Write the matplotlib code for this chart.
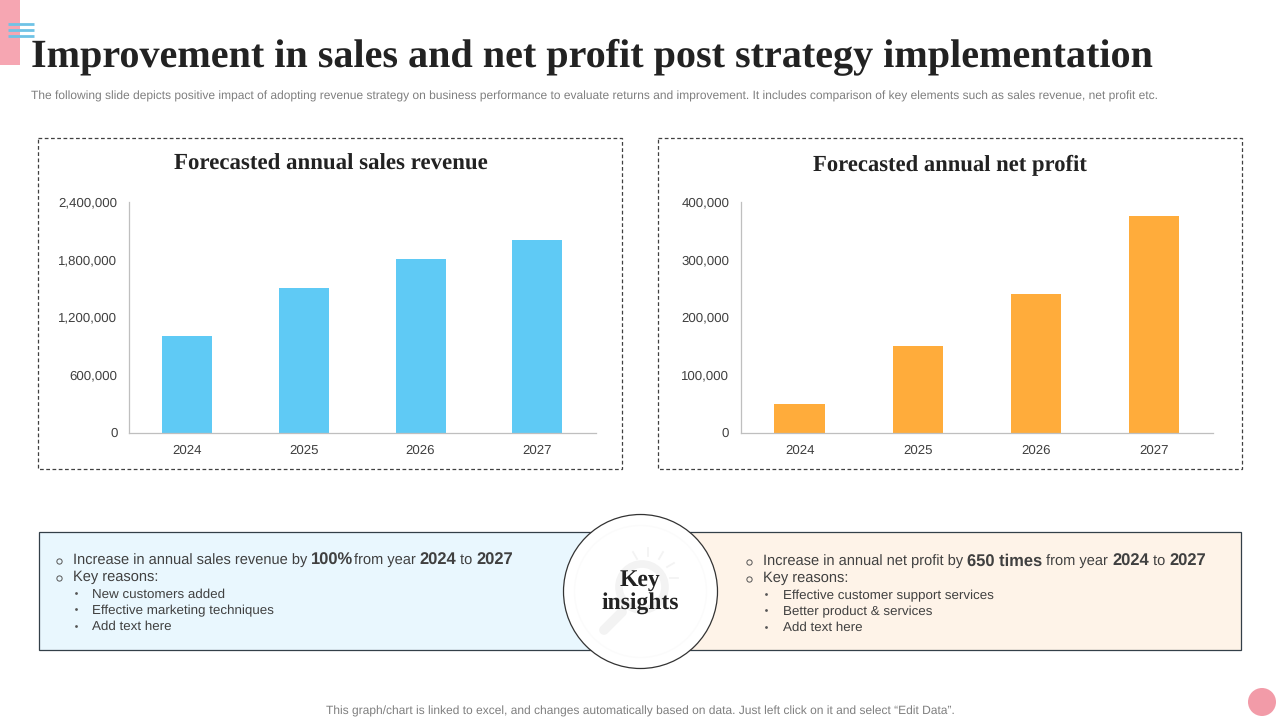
import matplotlib
matplotlib.use('Agg')
import matplotlib.pyplot as plt
from matplotlib.patches import Rectangle, Circle
import numpy as np

plt.rcParams['text.hinting'] = 'no_hinting'

years = ['2024', '2025', '2026', '2027']
sales = [1000000, 1500000, 1800000, 2000000]
profit = [50000, 150000, 240000, 375000]
sales_ticks = [0, 600000, 1200000, 1800000, 2400000]
profit_ticks = [0, 100000, 200000, 300000, 400000]
title = 'Improvement in sales and net profit post strategy implementation'
subtitle = ('The following slide depicts positive impact of adopting revenue strategy on business performance '
            'to evaluate returns and improvement. It includes comparison of key elements such as sales revenue, net profit etc.')
footer = 'This graph/chart is linked to excel, and changes automatically based on data. Just left click on it and select \u201cEdit Data\u201d.'
left_head = [('Increase in annual sales revenue by ', False), ('100%', True), ('from year ', False), ('2024', True), (' to ', False), ('2027', True)]
right_head = [('Increase in annual net profit by ', False), ('650 times', True), (' from year ', False), ('2024', True), (' to ', False), ('2027', True)]
left_items = ['New customers added', 'Effective marketing techniques', 'Add text here']
right_items = ['Effective customer support services', 'Better product & services', 'Add text here']

SANS = 'Liberation Sans'
SERIF = 'Liberation Serif'
GREY = '#404040'

fig = plt.figure(figsize=(12.8, 7.2), dpi=100)
bg = fig.add_axes([0, 0, 1, 1], zorder=0)
bg.set_xlim(0, 1280); bg.set_ylim(720, 0); bg.axis('off')
fg = fig.add_axes([0, 0, 1, 1], zorder=5)
fg.set_xlim(0, 1280); fg.set_ylim(720, 0); fg.axis('off'); fg.patch.set_alpha(0)

# corner decoration
bg.add_patch(Rectangle((0, 0), 20, 65, fc='#F6A6B2', ec='none'))
for y in (24, 30, 36):
    bg.plot([8, 34], [y, y], color='#6FC3E6', lw=2.0, solid_capstyle='butt')
bg.add_patch(Circle((1262, 702), 14, fc='#F29BA8', ec='none'))

bg.text(31, 58, title, fontfamily=SERIF, fontweight='bold', fontsize=28.92, color='#222222', va='center', ha='left')
bg.text(31, 96, subtitle, fontfamily=SANS, fontsize=8.68, color='#7F7F7F', va='center', ha='left')
bg.text(640, 711, footer, fontfamily=SANS, fontsize=8.68, color='#7F7F7F', va='center', ha='center')

# dashed frames
for x0, x1 in ((37.5, 621.5), (657.5, 1241.5)):
    bg.add_patch(Rectangle((x0, 137.5), x1 - x0, 331, fc='none', ec='#404040', lw=0.9, ls=(0, (3, 2))))
bg.text(330.5, 164.3, 'Forecasted annual sales revenue', fontfamily=SERIF, fontweight='bold', fontsize=16.46, color='#222222', va='center', ha='center')
bg.text(949.5, 165, 'Forecasted annual net profit', fontfamily=SERIF, fontweight='bold', fontsize=16.25, color='#222222', va='center', ha='center')

def chart(x0, x1, vals, ticks, color):
    ax = fig.add_axes([x0 / 1280, 1 - 432.5 / 720, (x1 - x0) / 1280, 231 / 720], zorder=2)
    ax.patch.set_alpha(0)
    ax.bar(range(4), vals, width=0.428, color=color)
    ax.set_xlim(-0.5, 3.5)
    ax.set_ylim(0, ticks[-1])
    ax.set_xticks(range(4), years)
    ax.set_yticks(ticks, [f'{t:,}' for t in ticks])
    ax.tick_params(length=0, labelsize=9.5, labelcolor=GREY)
    ax.tick_params(axis='x', pad=8.5)
    ax.tick_params(axis='y', pad=8.3)
    for lab in ax.get_xticklabels() + ax.get_yticklabels():
        lab.set_fontfamily(SANS)
    for s in ('top', 'right'):
        ax.spines[s].set_visible(False)
    for s in ('left', 'bottom'):
        ax.spines[s].set_color('#BFBFBF')
        ax.spines[s].set_linewidth(0.9)

chart(129, 595.5, sales, sales_ticks, '#5FCAF5')
chart(740.7, 1213, profit, profit_ticks, '#FFAC3B')

# insight boxes
bg.add_patch(Rectangle((38.5, 531.5), 600, 118, fc='#E9F7FE', ec='#333F48', lw=0.9))
bg.add_patch(Rectangle((639, 531.5), 602, 118, fc='#FEF3E8', ec='#333F48', lw=0.9))
fg.add_patch(Circle((640.5, 591.5), 77, fc='white', ec='#333333', lw=0.9))

# faint bulb icon
ic = '#F3F3F3'
fg.add_patch(Circle((642, 587), 23, fc='none', ec=ic, lw=5.5))
fg.add_patch(Circle((640.5, 591.5), 66, fc='none', ec='#FBFBFB', lw=1))
fg.plot([604, 622], [630, 612], color=ic, lw=7, solid_capstyle='round')
for ang in (-120, -90, -60, -30, 0):
    a = np.deg2rad(ang)
    fg.plot([648 + 22 * np.cos(a), 648 + 30 * np.cos(a)], [578 + 22 * np.sin(a), 578 + 30 * np.sin(a)], color=ic, lw=1.3)
fg.text(640, 580.5, 'Key', fontfamily=SERIF, fontweight='bold', fontsize=17, color='#222222', ha='center', va='center')
fg.text(640, 603.5, 'insights', fontfamily=SERIF, fontweight='bold', fontsize=17, color='#222222', ha='center', va='center')

renderer = fig.canvas.get_renderer()
def runs(x, y, parts, size, bsize):
    for s, bold in parts:
        sz = bsize if bold else size
        t = fg.text(x, y, s, fontfamily=SANS, fontsize=sz, color=GREY, fontweight='bold' if bold else 'normal', va='center', ha='left')
        adv, _, _ = renderer.get_text_width_height_descent(s.replace(' ', '\u00a0'), t.get_fontproperties(), False)
        x += adv * 100 / fig.dpi

def block(xb, xt, xd, xi, y1, y2, ys, head, items):
    for y in (y1, y2):
        fg.plot([xb], [y + 1.5], marker='o', ms=3.8, mfc='none', mec='#555555', mew=0.7)
    runs(xt, y1 + 1, head, 10.56, 11.9)
    fg.text(xt, y2 + 1, 'Key reasons:', fontfamily=SANS, fontsize=10.56, color=GREY, va='center', ha='left')
    for y, s in zip(ys, items):
        fg.plot([xd], [y], marker='o', ms=2, color='#555555', mew=0)
        fg.text(xi, y + 1.5, s, fontfamily=SANS, fontsize=9.6, color=GREY, va='center', ha='left')

block(58.5, 73, 76, 92, 559, 576, [593, 609, 625.5], left_head, left_items)
block(748.5, 763, 766, 783, 560, 577, [594, 610, 626.5], right_head, right_items)

fig.savefig('out.png', dpi=100)
